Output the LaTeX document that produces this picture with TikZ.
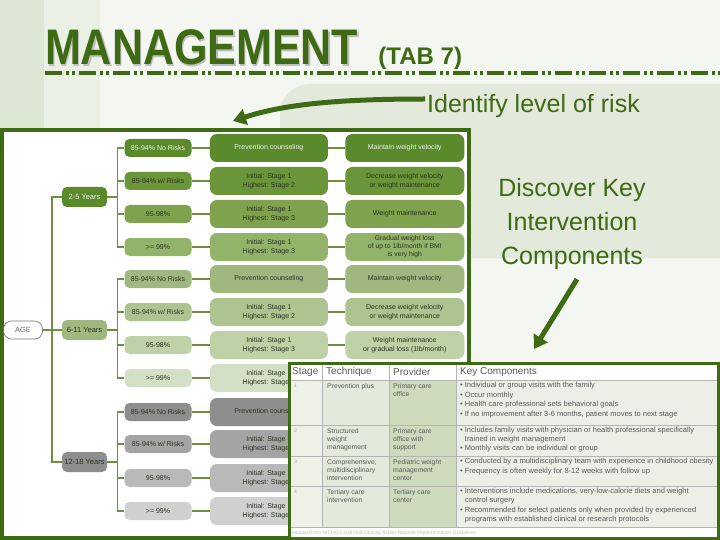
\documentclass[tikz,border=0pt]{standalone}
\usepackage{fontspec}
\setmainfont{Liberation Sans}
\usetikzlibrary{arrows.meta, positioning}

\definecolor{mgreen}{HTML}{3F6A14}
\definecolor{bgpale}{HTML}{F4F6F1}
\definecolor{bgband}{HTML}{DDE6D2}
\definecolor{bgband2}{HTML}{EBF0E4}
\definecolor{bgpanel}{HTML}{E3E9DB}
\definecolor{linkc}{HTML}{6E8F3E}
\definecolor{txtdark}{HTML}{2A3320}
\definecolor{txtpale}{HTML}{EEF2E6}
\definecolor{g1a}{HTML}{5B8A2D}
\definecolor{g1b}{HTML}{6B9539}
\definecolor{g1c}{HTML}{7EA24E}
\definecolor{g1d}{HTML}{93B36A}
\definecolor{g2a}{HTML}{9FB880}
\definecolor{g2b}{HTML}{ADC490}
\definecolor{g2c}{HTML}{BFD1A7}
\definecolor{g2d}{HTML}{D4E0C5}
\definecolor{g3a}{HTML}{8E8E8E}
\definecolor{g3b}{HTML}{A4A4A4}
\definecolor{g3c}{HTML}{B9B9B9}
\definecolor{g3d}{HTML}{D0D0D0}
\definecolor{tabtext}{HTML}{5A5A5A}
\definecolor{tabrule}{HTML}{B4B4B4}
\definecolor{colst}{HTML}{EEF1E8}
\definecolor{colte}{HTML}{E4EADB}
\definecolor{colpr}{HTML}{CEDBBC}
\definecolor{colkc}{HTML}{ECEFE6}

\begin{document}
\begin{tikzpicture}[x=1pt, y=-1pt]
 % Styles for the tree boxes, the table cells and the arrows
 \tikzset{
riskbox/.style = {rounded corners=5pt, minimum width=67pt, minimum height=18pt, inner sep=1pt, font=\fontsize{7}{8.5}\selectfont, text=txtdark},
agebox/.style = {riskbox, minimum width=45pt, minimum height=20pt, font=\fontsize{7.5}{9}\selectfont},
stagebox/.style = {rounded corners=7pt, minimum width=118pt, minimum height=28pt, inner sep=1pt, align=center, font=\fontsize{7}{8.5}\selectfont, text=txtdark},
actbox/.style = {stagebox, minimum width=119pt},
link/.style = {draw=linkc, line width=1.2pt},
bigarrow/.style = {draw=mgreen, line width=5pt, -{Triangle[length=13pt, width=16pt]}},
cell/.style = {anchor=north west, align=left, inner sep=0pt, font=\fontsize{6.8}{8.2}\selectfont, text=tabtext},
keycell/.style = {cell, font=\fontsize{7.5}{9.6}\selectfont},
head/.style = {anchor=west, inner sep=0pt, font=\fontsize{10}{10}\selectfont, text=tabtext},
}
 \useasboundingbox (0,0) rectangle (720,540);

 % Slide background
 \fill[bgpale] (0,0) rectangle (720,540);
 \fill[bgband] (0,0) rectangle (44,540);
 \fill[bgband2] (44,0) rectangle (100,540);
 \fill[bgpanel, rounded corners=30pt] (280,84) rectangle (760,258);

 % Title and dashed rule
 \node[anchor=base west, inner sep=0pt, xscale=0.86, font=\fontsize{50}{50}\selectfont\bfseries, text=black!25] at (46.5,66.5) {MANAGEMENT};
 \node[anchor=base west, inner sep=0pt, xscale=0.86, font=\fontsize{50}{50}\selectfont\bfseries, text=mgreen] (title) at (45,65) {MANAGEMENT};
 \node[base right=20pt of title, inner sep=0pt, font=\fontsize{24}{24}\selectfont\bfseries, text=mgreen] (tab) {(TAB 7)};
 \draw[mgreen, line width=4pt, dash pattern=on 17pt off 4pt on 3pt off 3pt on 3pt off 4pt] (45,73) -- (720,73);

 % Callout for the tree
 \node[anchor=west, inner sep=0pt, font=\fontsize{25}{25}\selectfont, text=mgreen] (risk) at (427,106) {Identify level of risk};
 \coordinate (riskTip) at (233,121);
 \draw[bigarrow] ([xshift=-2pt, yshift=7pt]risk.west) .. controls (340,99) and (285,104) .. (riskTip);

 % Tree panel
 \draw[mgreen, line width=4pt, fill=white] (2,130) rectangle (469,538);

 \node[agebox, fill=white, draw=black!55, line width=0.6pt, minimum width=39pt, minimum height=18pt, rounded corners=8pt, text=black!60] (age) at (23,330) {AGE};
 \node[agebox, fill=g1a, text=txtpale] (a1) at (84.5,197) {2-5 Years};
 \node[agebox, fill=g2a] (a2) at (84.5,330) {6-11 Years};
 \node[agebox, fill=g3a] (a3) at (84.5,462) {12-18 Years};
 \coordinate (trunk) at (52,330);

 % 2-5 Years
 \node[riskbox, fill=g1a, text=txtpale] (r1a) at (158,148) {85-94\% No Risks};
 \node[riskbox, fill=g1b] (r1b) at (158,181) {85-94\% w/ Risks};
 \node[riskbox, fill=g1c] (r1c) at (158,214) {95-98\%};
 \node[riskbox, fill=g1d] (r1d) at (158,247) {>= 99\%};
 \node[stagebox, fill=g1a, text=txtpale, right=18pt of r1a] (s1a) {Prevention counseling};
 \node[stagebox, fill=g1b, right=18pt of r1b] (s1b) {Initial: Stage 1\\Highest: Stage 2};
 \node[stagebox, fill=g1c, right=18pt of r1c] (s1c) {Initial: Stage 1\\Highest: Stage 3};
 \node[stagebox, fill=g1d, right=18pt of r1d] (s1d) {Initial: Stage 1\\Highest: Stage 3};
 \node[actbox, fill=g1a, text=txtpale, right=17pt of s1a] (v1a) {Maintain weight velocity};
 \node[actbox, fill=g1b, right=17pt of s1b] (v1b) {Decrease weight velocity\\or weight maintenance};
 \node[actbox, fill=g1c, right=17pt of s1c] (v1c) {Weight maintenance};
 \node[actbox, fill=g1d, right=17pt of s1d, font=\fontsize{6.8}{7.8}\selectfont] (v1d) {Gradual weight loss\\of up to 1lb/month if BMI\\is very high};

 % 6-11 Years
 \node[riskbox, fill=g2a] (r2a) at (158,279) {85-94\% No Risks};
 \node[riskbox, fill=g2b] (r2b) at (158,312) {85-94\% w/ Risks};
 \node[riskbox, fill=g2c] (r2c) at (158,345) {95-98\%};
 \node[riskbox, fill=g2d] (r2d) at (158,378) {>= 99\%};
 \node[stagebox, fill=g2a, right=18pt of r2a] (s2a) {Prevention counseling};
 \node[stagebox, fill=g2b, right=18pt of r2b] (s2b) {Initial: Stage 1\\Highest: Stage 2};
 \node[stagebox, fill=g2c, right=18pt of r2c] (s2c) {Initial: Stage 1\\Highest: Stage 3};
 \node[stagebox, fill=g2d, right=18pt of r2d] (s2d) {Initial: Stage 1\\Highest: Stage 3};
 \node[actbox, fill=g2a, right=17pt of s2a] (v2a) {Maintain weight velocity};
 \node[actbox, fill=g2b, right=17pt of s2b] (v2b) {Decrease weight velocity\\or weight maintenance};
 \node[actbox, fill=g2c, right=17pt of s2c] (v2c) {Weight maintenance\\or gradual loss (1lb/month)};

 % 12-18 Years
 \node[riskbox, fill=g3a] (r3a) at (158,412) {85-94\% No Risks};
 \node[riskbox, fill=g3b] (r3b) at (158,444) {85-94\% w/ Risks};
 \node[riskbox, fill=g3c] (r3c) at (158,478) {95-98\%};
 \node[riskbox, fill=g3d] (r3d) at (158,511) {>= 99\%};
 \node[stagebox, fill=g3a, right=18pt of r3a] (s3a) {Prevention counseling};
 \node[stagebox, fill=g3b, right=18pt of r3b] (s3b) {Initial: Stage 1\\Highest: Stage 2};
 \node[stagebox, fill=g3c, right=18pt of r3c] (s3c) {Initial: Stage 1\\Highest: Stage 3};
 \node[stagebox, fill=g3d, right=18pt of r3d] (s3d) {Initial: Stage 1\\Highest: Stage 3};

 % Tree links
 \draw[link] (age) -- (a2);
 \draw[link] (a1.west) -| (trunk) |- (a3.west);
 \draw[link] (a1.east) -- ++(10,0) coordinate (j1);
 \draw[link] (r1a.west) -| (j1) |- (r1d.west);
 \draw[link] (j1) |- (r1b.west);
 \draw[link] (j1) |- (r1c.west);
 \draw[link] (a2.east) -- ++(10,0) coordinate (j2);
 \draw[link] (r2a.west) -| (j2) |- (r2d.west);
 \draw[link] (j2) |- (r2b.west);
 \draw[link] (j2) |- (r2c.west);
 \draw[link] (a3.east) -- ++(10,0) coordinate (j3);
 \draw[link] (r3a.west) -| (j3) |- (r3d.west);
 \draw[link] (j3) |- (r3b.west);
 \draw[link] (j3) |- (r3c.west);
 \draw[link] (r1a) -- (s1a) -- (v1a);
 \draw[link] (r1b) -- (s1b) -- (v1b);
 \draw[link] (r1c) -- (s1c) -- (v1c);
 \draw[link] (r1d) -- (s1d) -- (v1d);
 \draw[link] (r2a) -- (s2a) -- (v2a);
 \draw[link] (r2b) -- (s2b) -- (v2b);
 \draw[link] (r2c) -- (s2c) -- (v2c);
 \draw[link] (r2d) -- (s2d);
 \draw[link] (r3a) -- (s3a);
 \draw[link] (r3b) -- (s3b);
 \draw[link] (r3c) -- (s3c);
 \draw[link] (r3d) -- (s3d);

 % Key components table laid over the tree
 \fill[white] (290,363) rectangle (717,538);
 \fill[colst] (290,380) rectangle (322,527);
 \fill[colte] (322,380) rectangle (389,527);
 \fill[colpr] (389,380) rectangle (456,527);
 \fill[colkc] (456,380) rectangle (717,527);
 \draw[tabrule, line width=0.6pt] (290,380) -- (717,380) (290,425) -- (717,425) (290,456) -- (717,456)
   (290,486) -- (717,486) (290,527) -- (717,527)
   (322,363) -- (322,527) (389,363) -- (389,527) (456,363) -- (456,527);

 \node[head] (hstage) at (292,372) {Stage};
 \node[head] (htech) at (326,372) {Technique};
 \node[head] (hprov) at (393,372) {Provider};
 \node[head] (hkey) at (460,372) {Key Components};

 \node[cell, font=\fontsize{5}{6}\selectfont, text=black!35] (n1) at (294,384) {1};
 \node[cell, font=\fontsize{5}{6}\selectfont, text=black!35] (n2) at (294,429) {2};
 \node[cell, font=\fontsize{5}{6}\selectfont, text=black!35] (n3) at (294,460) {3};
 \node[cell, font=\fontsize{5}{6}\selectfont, text=black!35] (n4) at (294,490) {4};

 \node[cell] (t1) at (327,383) {Prevention plus};
 \node[cell] (t2) at (327,428) {Structured\\weight\\management};
 \node[cell] (t3) at (327,459) {Comprehensive,\\multidisciplinary\\intervention};
 \node[cell] (t4) at (327,489) {Tertiary care\\intervention};

 \node[cell] (p1) at (393,383) {Primary care\\office};
 \node[cell] (p2) at (393,428) {Primary care\\office with\\support};
 \node[cell] (p3) at (393,459) {Pediatric weight\\management\\center};
 \node[cell] (p4) at (393,489) {Tertiary care\\center};

 \node[keycell] (k1) at (460,382) {• Individual or group visits with the family\\• Occur monthly\\• Health care professional sets behavioral goals\\• If no improvement after 3-6 months, patient moves to next stage};
 \node[keycell, font=\fontsize{7.5}{9}\selectfont] (k2) at (460,427) {• Includes family visits with physician or health professional specifically\\\phantom{• }trained in weight management\\• Monthly visits can be individual or group};
 \node[keycell] (k3) at (460,458) {• Conducted by a multidisciplinary team with experience in childhood obesity\\• Frequency is often weekly for 8-12 weeks with follow up};
 \node[keycell, font=\fontsize{7.5}{9.2}\selectfont] (k4) at (460,488) {• Interventions include medications, very-low-calorie diets and weight\\\phantom{• }control surgery\\• Recommended for select patients only when provided by experienced\\\phantom{• }programs with established clinical or research protocols};

 \node[anchor=west, inner sep=0pt, font=\fontsize{5}{5}\selectfont, text=black!25] (src) at (291,533) {Adapted from NICHQ Childhood Obesity Action Network Implementation Guidelines};
 \draw[mgreen, line width=3pt] (289,363) rectangle (718,538.5);

 % Callout for the table
 \node[align=center, font=\fontsize{25}{34}\selectfont, text=mgreen] (disc) at (572,224) {Discover Key\\Intervention\\Components};
 \coordinate (tabTip) at (534,349);
 \draw[bigarrow] ([xshift=5pt, yshift=-6pt]disc.south) -- (tabTip);

\end{tikzpicture}
\end{document}
